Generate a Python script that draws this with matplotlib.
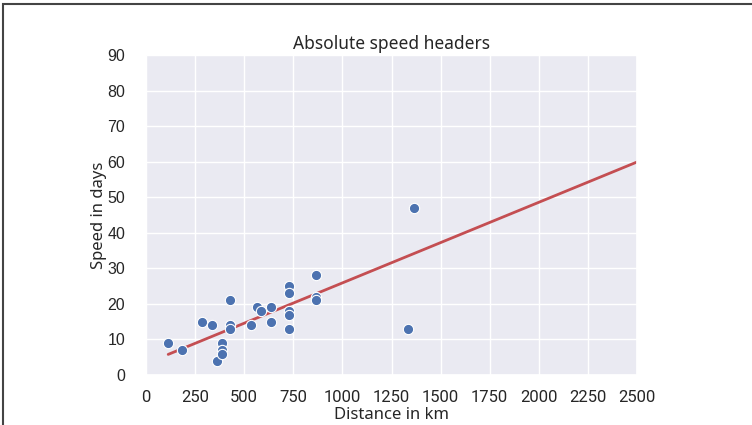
import matplotlib
matplotlib.use("Agg")
import matplotlib.pyplot as plt
import seaborn as sns
import numpy as np
from matplotlib.patches import Rectangle

# distance (km) and speed (days) for each letter
distance_km = [113, 182, 285, 336, 361, 388, 388, 388, 428, 428, 428, 535, 567,
               584, 636, 636, 728, 728, 728, 728, 728, 866, 866, 866, 1334, 1365]
speed_days = [9, 7, 15, 14, 4, 9, 7, 6, 21, 14, 13, 14, 19,
              18, 19, 15, 25, 23, 18, 17, 13, 28, 22, 21, 13, 47]

# fitted line
fit_slope = 0.02267
fit_intercept = 3.23
fit_x_end = 2500

x_ticks = [0, 250, 500, 750, 1000, 1250, 1500, 1750, 2000, 2250, 2500]
y_ticks = [0, 10, 20, 30, 40, 50, 60, 70, 80, 90]

sns.set_theme(style="darkgrid")

fig = plt.figure(figsize=(7.52, 4.25), dpi=100)
ax = fig.add_axes([146 / 752, 1 - 375 / 425, (637 - 146) / 752, (375 - 55) / 425])

sns.scatterplot(x=distance_km, y=speed_days, ax=ax, color="#4c72b0", s=55,
                edgecolor="white", linewidth=0.8, zorder=3)

fit_x = np.array([min(distance_km), fit_x_end])
ax.plot(fit_x, fit_intercept + fit_slope * fit_x, color="#c44e52", linewidth=2, zorder=2)

ax.set_xlim(0, 2500)
ax.set_ylim(0, 90)
ax.set_xticks(x_ticks)
ax.set_yticks(y_ticks)

for lab in ax.get_xticklabels():
    lab.set_family(["Roboto", "DejaVu Sans"])
    lab.set_fontsize(12)
    lab.set_color("#262626")
for lab in ax.get_yticklabels():
    lab.set_family(["Liberation Sans", "DejaVu Sans"])
    lab.set_fontsize(11.5)
    lab.set_color("#262626")

ax.tick_params(axis="x", pad=5)
ax.tick_params(axis="y", pad=9)

ax.set_title("Absolute speed headers", fontsize=12.5, family=["Noto Sans", "DejaVu Sans"],
             color="#262626", pad=4)
ax.set_xlabel("Distance in km", fontsize=12, family=["Noto Sans", "DejaVu Sans"],
              color="#262626", labelpad=1)
ax.set_ylabel("Speed in days", fontsize=12, family=["Noto Sans", "DejaVu Sans"],
              color="#262626", labelpad=0)

# frame around the picture
fig.patches.append(Rectangle((3 / 752, -0.1), 1.2, 1 - 4 / 425 + 0.1,
                             transform=fig.transFigure, fill=False,
                             edgecolor="#444444", linewidth=1.5))

fig.savefig("out.png", dpi=100)
